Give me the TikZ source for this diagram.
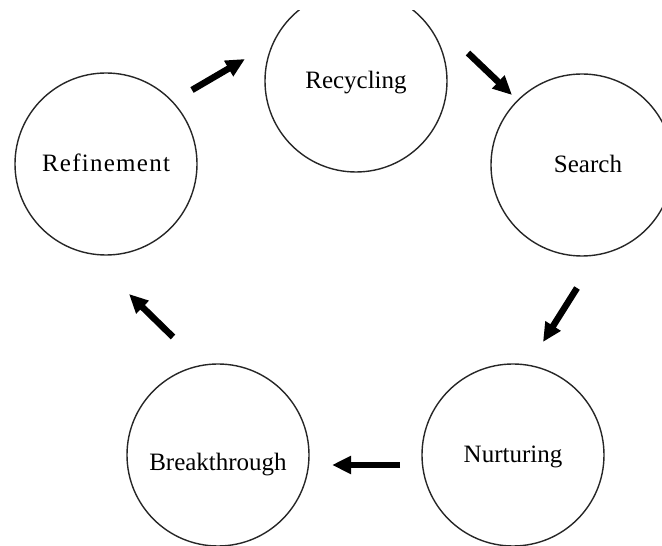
\documentclass[tikz,border=0pt]{standalone}
\usepackage{fontspec}
\setmainfont{Liberation Serif}
\usetikzlibrary{arrows.meta,positioning}

\begin{document}
\begin{tikzpicture}[x=1pt,y=1pt,
    stage/.style={draw=black!85, circle, line width=1.4pt, minimum size=182pt, inner sep=0pt,
        font=\fontsize{25}{30}\selectfont, text height=18pt, text depth=3pt},
    flow/.style={line width=6.5pt, -{Triangle[length=19pt,width=17pt]}}]
    \useasboundingbox (0,0) rectangle (662,546);
    \clip (0,0) rectangle (662,535);

    % Stages
    \node[stage] (recyc) at (356,465) {Recycling};
    \node[stage] (search) at (582,381) {\hspace*{12pt}Search};
    \node[stage] (nurture) at (513,91) {Nurturing};
    \node[stage, text height=34pt, text depth=2pt] (break) at (218,91) {Breakthrough};
    \node[stage] (refine) at (106,382) {\addfontfeature{LetterSpace=5}Refinement};

    % Arrow ends
    \coordinate (a1s) at (192,456);  \coordinate (a1e) at (245,487);
    \coordinate (a2s) at (468,493);  \coordinate (a2e) at (512,451);
    \coordinate (a3s) at (577,258);  \coordinate (a3e) at (543,204);
    \coordinate (a4s) at (400,81);   \coordinate (a4e) at (332,81);
    \coordinate (a5s) at (173,209);  \coordinate (a5e) at (129,252);

    % Cycle
    \draw[flow] (a1s) -- (a1e);
    \draw[flow] (a2s) -- (a2e);
    \draw[flow] (a3s) -- (a3e);
    \draw[flow] (a4s) -- (a4e);
    \draw[flow] (a5s) -- (a5e);
\end{tikzpicture}
\end{document}
